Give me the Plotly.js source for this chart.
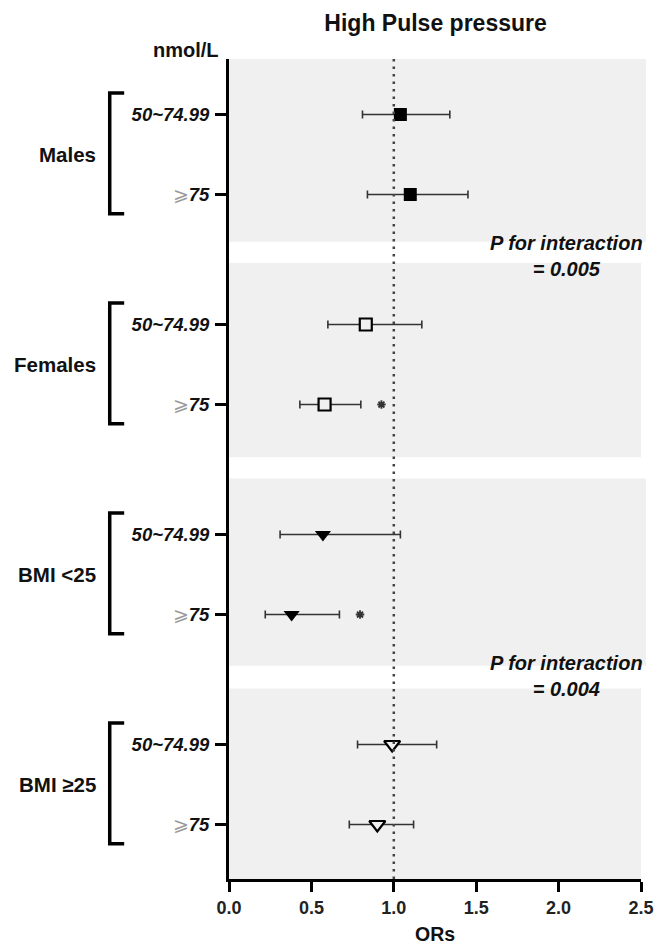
<!DOCTYPE html>
<html>
<head>
<meta charset="utf-8">
<script src="https://cdn.plot.ly/plotly-3.0.1.min.js"></script>
<style>html,body{margin:0;padding:0;background:#fff;}#chart{width:654px;height:946px;}</style>
</head>
<body>
<div id="chart"></div>
<script>
// ---- data ----
var groups = ['Males', 'Females', 'BMI <25', 'BMI \u226525'];
var levels = ['50~74.99', '\u2A7E75'];
var orValues = [1.04, 1.10, 0.83, 0.58, 0.57, 0.38, 0.99, 0.90];
var ciLow    = [0.81, 0.84, 0.60, 0.43, 0.31, 0.22, 0.78, 0.73];
var ciHigh   = [1.34, 1.45, 1.17, 0.80, 1.04, 0.67, 1.26, 1.12];
var significant = [false, false, false, true, false, true, false, false];
var pInteraction = ['0.005', '0.004'];
var xTicks = [0, 0.5, 1.0, 1.5, 2.0, 2.5];

// ---- layout helpers ----
var groupStep = 2.625;
function rowPos(g, r) { return g * groupStep + r; }
var symbols = ['square', 'square', 'triangle-down', 'triangle-down'];
var fills = ['#000', '#f0f0f0', '#000', '#f0f0f0'];
var sizes = [13, 12, 14, 14];
var panelColor = '#f0f0f0';
var FONT = 'Liberation Sans, Arial, sans-serif';

var traces = [];
var tickvals = [], ticktext = [];
for (var g = 0; g < groups.length; g++) {
  var xs = [], ys = [], ep = [], em = [];
  for (var r = 0; r < levels.length; r++) {
    var i = g * levels.length + r;
    xs.push(orValues[i]);
    ys.push(rowPos(g, r));
    ep.push(ciHigh[i] - orValues[i]);
    em.push(orValues[i] - ciLow[i]);
    tickvals.push(rowPos(g, r));
    ticktext.push(r === 0 ? levels[0] :
      '<span style="color:#9a9a9a;font-weight:normal;font-style:normal">\u2A7E</span>75');
  }
  traces.push({
    type: 'scatter', mode: 'markers', x: xs, y: ys, showlegend: false,
    marker: {symbol: symbols[g], size: sizes[g], color: fills[g],
             line: {color: '#000', width: g % 2 === 1 ? 2.2 : 0}},
    error_x: {type: 'data', symmetric: false, array: ep, arrayminus: em,
              color: '#333', thickness: 1.6, width: 4}
  });
}
// significance stars
var sx = [], sy = [];
for (var k = 0; k < significant.length; k++) {
  if (significant[k]) {
    sx.push(ciHigh[k] + 0.125);
    sy.push(rowPos(Math.floor(k / 2), k % 2));
  }
}
traces.push({type: 'scatter', mode: 'markers', x: sx, y: sy, showlegend: false,
  marker: {symbol: 'asterisk-open', size: 7, color: '#333', line: {color: '#333', width: 1.8}}});

var shapes = [];
var annotations = [];
var panelTop = [-0.70, -0.77, -0.70, -0.70];
var panelBot = [1.59, 1.66, 1.64, 1.68];
var panelRight = [1.012, 1.0, 1.012, 1.0];
for (var g = 0; g < groups.length; g++) {
  var y0 = rowPos(g, 0);
  shapes.push({type: 'rect', xref: 'paper', yref: 'y', layer: 'below',
    x0: 0, x1: panelRight[g], y0: y0 + panelTop[g], y1: y0 + panelBot[g],
    fillcolor: panelColor, line: {width: 0}});
  // bracket
  var bx0 = -0.2544, bx1 = -0.2895;
  shapes.push({type: 'path', xref: 'paper', yref: 'y',
    path: 'M ' + bx0 + ',' + (y0 - 0.27) + ' L ' + bx1 + ',' + (y0 - 0.27) +
          ' L ' + bx1 + ',' + (y0 + 1.24) + ' L ' + bx0 + ',' + (y0 + 1.24),
    line: {color: '#000', width: 3.5}});
  annotations.push({xref: 'paper', yref: 'y', x: -0.318, y: y0 + 0.5,
    xanchor: 'right', yanchor: 'middle', showarrow: false, text: groups[g],
    font: {family: FONT, size: 20.5, weight: 'bold', color: '#111'}});
}
// reference line at OR = 1
shapes.push({type: 'line', xref: 'x', yref: 'paper', x0: 1, x1: 1, y0: 0, y1: 1,
  line: {color: '#444', width: 2.5, dash: '2.5px,5px'}});

for (var p = 0; p < pInteraction.length; p++) {
  annotations.push({xref: 'paper', yref: 'y', x: 0.818, y: rowPos(2 * p, 0) + 1.77,
    xanchor: 'center', yanchor: 'middle', showarrow: false, align: 'center',
    text: 'P for interaction<br>= ' + pInteraction[p],
    font: {family: FONT, size: 20, weight: 'bold', style: 'italic', color: '#111'}});
}
annotations.push({xref: 'paper', yref: 'paper', x: -0.02, y: 1.011, xanchor: 'right', yanchor: 'middle',
  showarrow: false, text: 'nmol/L',
  font: {family: FONT, size: 20, weight: 'bold', color: '#111'}});
annotations.push({xref: 'paper', yref: 'paper', x: 0.5, y: -0.0665, xanchor: 'center', yanchor: 'middle',
  showarrow: false, text: 'ORs',
  font: {family: FONT, size: 19.5, weight: 'bold', color: '#111'}});

var layout = {
  width: 654, height: 946,
  margin: {l: 229, r: 13, t: 59, b: 67},
  paper_bgcolor: '#fff', plot_bgcolor: '#fff',
  title: {text: 'High Pulse pressure', x: 0.666, xanchor: 'center', y: 0.976, yanchor: 'middle',
    font: {family: FONT, size: 23, weight: 'bold', color: '#111'}},
  xaxis: {range: [0, 2.5], tickvals: xTicks, tickformat: '.1f', showgrid: false, zeroline: false,
    showline: true, linecolor: '#000', linewidth: 3, ticks: 'outside', ticklen: 10, tickwidth: 3,
    tickcolor: '#000', fixedrange: true,
    tickfont: {family: FONT, size: 18, weight: 'bold', color: '#222'}},
  yaxis: {range: [9.556, -0.694], tickvals: tickvals, ticktext: ticktext, showgrid: false, zeroline: false,
    showline: true, linecolor: '#000', linewidth: 3, ticks: 'outside', ticklen: 11, tickwidth: 3,
    tickcolor: '#000', ticklabelstandoff: 2,
    tickfont: {family: FONT, size: 18.5, weight: 'bold', style: 'italic', color: '#111'}},
  shapes: shapes,
  annotations: annotations,
  showlegend: false
};
Plotly.newPlot('chart', traces, layout, {displayModeBar: false, staticPlot: true});
</script>
</body>
</html>
